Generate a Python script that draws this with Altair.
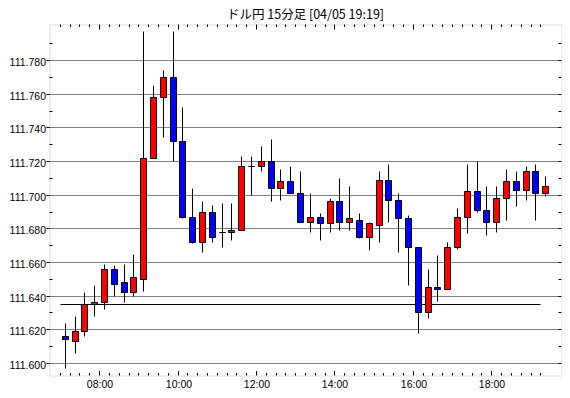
import altair as alt
import pandas as pd
import numpy as np

# ---------------- data ----------------
title_text = "ドル円 15分足 [04/05 19:19]"
bar_start = "07:00"          # first 15-minute bar
n_bars = 50
opens = [111.616, 111.613, 111.619, 111.635, 111.636, 111.656, 111.648, 111.642, 111.650, 111.722,
         111.758, 111.770, 111.732, 111.687, 111.672, 111.690, 111.678, 111.678, 111.679, 111.717,
         111.717, 111.720, 111.704, 111.708, 111.701, 111.684, 111.687, 111.683, 111.696, 111.684,
         111.685, 111.675, 111.682, 111.709, 111.697, 111.686, 111.669, 111.630, 111.645, 111.644,
         111.669, 111.687, 111.702, 111.691, 111.684, 111.698, 111.708, 111.703, 111.714, 111.701]
highs = [111.624, 111.628, 111.642, 111.6465, 111.659, 111.658, 111.659, 111.665, 111.797, 111.765,
         111.774, 111.797, 111.752, 111.704, 111.696, 111.694, 111.695, 111.695, 111.723, 111.723,
         111.729, 111.733, 111.715, 111.717, 111.714, 111.701, 111.689, 111.698, 111.710, 111.705,
         111.689, 111.684, 111.714, 111.718, 111.701, 111.688, 111.669, 111.656, 111.664, 111.672,
         111.692, 111.718, 111.720, 111.705, 111.705, 111.715, 111.714, 111.717, 111.718, 111.711]
lows = [111.597, 111.606, 111.616, 111.628, 111.632, 111.640, 111.636, 111.640, 111.643, 111.722,
        111.734, 111.720, 111.686, 111.671, 111.666, 111.672, 111.669, 111.673, 111.679, 111.700,
        111.714, 111.696, 111.697, 111.701, 111.684, 111.678, 111.673, 111.678, 111.679, 111.679,
        111.674, 111.667, 111.672, 111.684, 111.666, 111.6465, 111.618, 111.627, 111.637, 111.644,
        111.668, 111.677, 111.690, 111.676, 111.678, 111.685, 111.693, 111.697, 111.685, 111.699]
closes = [111.614, 111.619, 111.635, 111.636, 111.656, 111.647, 111.642, 111.651, 111.722, 111.758,
          111.770, 111.732, 111.687, 111.672, 111.690, 111.675, 111.678, 111.679, 111.717, 111.717,
          111.720, 111.704, 111.708, 111.701, 111.684, 111.687, 111.683, 111.696, 111.684, 111.686,
          111.675, 111.683, 111.709, 111.697, 111.686, 111.669, 111.630, 111.645, 111.644, 111.669,
          111.687, 111.702, 111.691, 111.684, 111.698, 111.708, 111.703, 111.714, 111.701, 111.705]
ref_level = 111.635
ref_from, ref_to = "07:00", "19:15"
x_tick_labels = ["08:00", "10:00", "12:00", "14:00", "16:00", "18:00"]
y_tick_labels = [111.600, 111.620, 111.640, 111.660, 111.680, 111.700, 111.720, 111.740, 111.760, 111.780]


def hours(s):
    h, m = s.split(":")
    return int(h) + int(m) / 60.0


# ---------------- layout ----------------
W, H = 512, 351
x_dom = [6.85, 19.65]
y_dom = [111.59287, 111.80139]
xs = alt.Scale(domain=x_dom, nice=False, zero=False, round=True)
ys = alt.Scale(domain=y_dom, nice=False, zero=False, round=True)
FONT = "Liberation Sans"

major_h = [hours(s) for s in x_tick_labels]

x_axis = alt.Axis(
    values=major_h, title=None, ticks=False, domain=False, grid=False,
    labelExpr="(datum.value < 10 ? '0' : '') + datum.value + ':00'",
    labelFont=FONT, labelFontSize=10.5, labelColor="black", labelPadding=4,
    labelOverlap=False)
y_axis = alt.Axis(
    values=y_tick_labels, format=".3f", title=None, ticks=False, domain=False, grid=False,
    labelFont=FONT, labelFontSize=10.5, labelColor="black", labelPadding=4, labelOffset=2,
    labelOverlap=False)

t0 = hours(bar_start)
candles = pd.DataFrame({
    "t": [t0 + 0.25 * i + 0.125 for i in range(n_bars)],
    "open": opens, "high": highs, "low": lows, "close": closes,
})
candles["dir"] = np.where(candles["close"] >= candles["open"], "up", "down")

grid_df = pd.DataFrame({"v": y_tick_labels})
ref_df = pd.DataFrame({"a": [hours(ref_from)], "b": [hours(ref_to)], "v": [ref_level]})

all_h = np.arange(hours(ref_from), hours(ref_to) + 0.001, 0.25)
minor_h = [h for h in all_h if all(abs(h - m) > 1e-6 for m in major_h)]
xmin_df = pd.DataFrame({"h": minor_h})
xmaj_df = pd.DataFrame({"h": major_h})
y_all = np.round(np.arange(111.600, 111.7951, 0.01), 3)
ymin_df = pd.DataFrame({"v": [v for v in y_all if v not in y_tick_labels]})
ymaj_df = pd.DataFrame({"v": y_tick_labels})
yall_df = pd.DataFrame({"v": y_all})

X = lambda f: alt.X(f, scale=xs, axis=x_axis)
Y = lambda f: alt.Y(f, scale=ys, axis=y_axis)

# ---------------- layers ----------------
grid = alt.Chart(grid_df).mark_rule(color="black", strokeWidth=1, strokeDash=[1, 1]).encode(
    y=Y("v:Q"), x=alt.value(0), x2=alt.value(W),
)

ref = alt.Chart(ref_df).mark_rule(color="black", strokeWidth=1).encode(
    x=X("a:Q"), x2="b:Q", y=Y("v:Q"),
)

wicks = alt.Chart(candles).mark_rule(color="black", strokeWidth=1).encode(
    x=X("t:Q"), y=Y("low:Q"), y2="high:Q",
)

bodies = alt.Chart(candles).mark_bar(size=6, stroke="black", strokeWidth=1).encode(
    x=X("t:Q"), y=Y("open:Q"), y2="close:Q",
    color=alt.Color("dir:N", scale=alt.Scale(domain=["up", "down"], range=["#ff0000", "#0000ff"]),
                    legend=None),
)

def xticks(df, y1, y2):
    return alt.Chart(df).mark_rule(color="black", strokeWidth=1).encode(
        x=X("h:Q"), y=alt.value(y1), y2=alt.value(y2))

def yticks(df, x1, x2):
    return alt.Chart(df).mark_rule(color="black", strokeWidth=1).encode(
        y=Y("v:Q"), x=alt.value(x1), x2=alt.value(x2))

ticks = [
    xticks(xmin_df, H, H - 2.5), xticks(xmaj_df, H, H - 4.5),
    xticks(xmin_df, 0, 2.5), xticks(xmaj_df, 0, 5),
    yticks(ymin_df, 0, 3), yticks(ymaj_df, -3, 0),
    yticks(yall_df, W - 3, W),
]

chart = alt.layer(grid, ref, wicks, bodies, *ticks).properties(
    width=W, height=H,
    title=alt.TitleParams(title_text, font="Noto Sans CJK JP", fontSize=12.5, fontWeight="normal",
                          color="black", anchor="middle", baseline="alphabetic", offset=5, dy=12.5),
    padding={"left": 41.5, "top": 16.5, "right": 0.5, "bottom": 14},
    autosize=alt.AutoSizeParams(type="none"),
).configure_view(stroke="black", strokeWidth=1).configure(background="white")

chart.save("out.html", embed_options={"renderer": "svg", "actions": False})
